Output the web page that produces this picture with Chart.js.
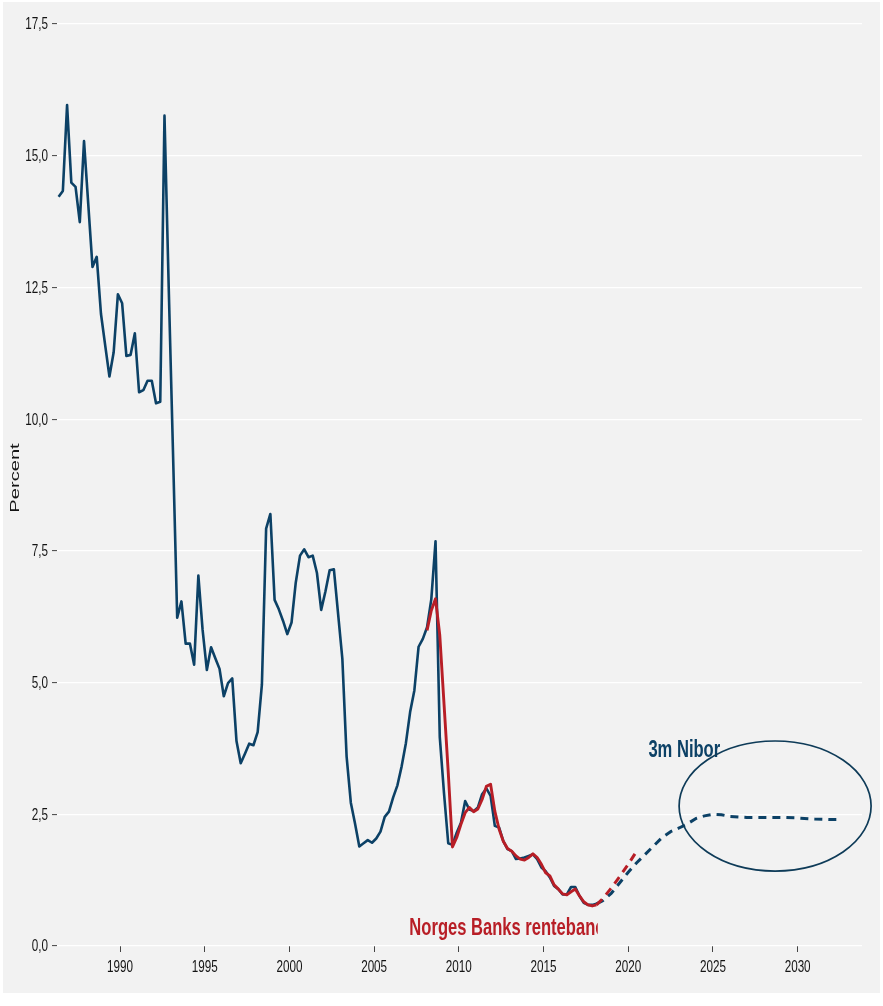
<!DOCTYPE html>
<html>
<head>
<meta charset="utf-8">
<script src="https://cdn.jsdelivr.net/npm/chart.js@4.4.1/dist/chart.umd.min.js"></script>
<style>
  html, body { margin: 0; padding: 0; background: #ffffff; }
  #wrap { position: absolute; left: 3px; top: 2px; width: 877px; height: 991px; background: #f2f2f2; }
</style>
</head>
<body>
<div id="wrap"><canvas id="chart"></canvas></div>
<script>
// ---------------- DATA ----------------
// 3m Nibor, quarterly history (first observation at 1986.375, step 0.25 year)
const niborStartYear = 1986.375;
const quarterStep = 0.25;
const niborHist = [
  14.22, 14.33, 15.96, 14.49, 14.41, 13.74, 15.28, 14.08, 12.89, 13.08,
  12.00, 11.40, 10.81, 11.27, 12.37, 12.20, 11.20, 11.22, 11.63, 10.51,
  10.55, 10.73, 10.73, 10.30, 10.33, 15.76, 12.50, 9.40, 6.23, 6.54,
  5.74, 5.74, 5.34, 7.03, 6.00, 5.24, 5.67, 5.46, 5.26, 4.74,
  4.99, 5.08, 3.89, 3.47, 3.65, 3.84, 3.81, 4.06, 4.96, 7.92,
  8.20, 6.57, 6.39, 6.17, 5.92, 6.14, 6.90, 7.41, 7.53, 7.38,
  7.41, 7.08, 6.38, 6.73, 7.13, 7.15, 6.30, 5.45, 3.60, 2.72,
  2.32, 1.89, 1.95, 2.01, 1.96, 2.04, 2.17, 2.45, 2.55, 2.82,
  3.05, 3.41, 3.85, 4.44, 4.85, 5.68, 5.83, 6.05, 6.58, 7.68,
  3.97, 2.90, 1.95, 1.92, 2.15, 2.34, 2.75, 2.59, 2.56, 2.63,
  2.88, 2.99, 2.85, 2.28, 2.25, 1.99, 1.84, 1.80, 1.65, 1.66,
  1.68, 1.71, 1.74, 1.65, 1.49, 1.42, 1.30, 1.14, 1.08, 0.98,
  0.98, 1.12, 1.12, 0.95, 0.82, 0.78, 0.78, 0.80
];
// 3m Nibor, market forward path (dashed)
const niborFwdYears = [2018.125, 2018.5, 2019, 2019.5, 2020, 2020.5, 2021, 2021.5, 2022, 2022.5,
  2023, 2023.5, 2024, 2024.5, 2025, 2025.5, 2026, 2027, 2028, 2029, 2030, 2031, 2032, 2032.6];
const niborFwd = [0.80, 0.86, 1.00, 1.20, 1.40, 1.58, 1.74, 1.90, 2.06, 2.17,
  2.24, 2.32, 2.42, 2.47, 2.50, 2.49, 2.46, 2.44, 2.44, 2.44, 2.43, 2.41, 2.40, 2.40];

// Norges Banks rentebane, quarterly history (starts at quarter index 87 of the Nibor series)
const rentebaneStartIndex = 87;
const rentebaneHist = [
  5.99, 6.37, 6.59, 5.90, 4.60, 3.30, 1.88, 2.06, 2.31, 2.53,
  2.63, 2.55, 2.60, 2.78, 3.03, 3.07, 2.56, 2.22, 1.99, 1.85,
  1.80, 1.71, 1.65, 1.63, 1.68, 1.75, 1.68, 1.55, 1.39, 1.33,
  1.16, 1.08, 0.99, 0.97, 1.03, 1.08, 0.95, 0.84, 0.78, 0.76, 0.78
];
// Norges Banks rentebane, forecast (dashed)
const rentebaneFwdYears = [2018.125, 2018.5, 2019, 2019.5, 2020, 2020.58];
const rentebaneFwd = [0.78, 0.90, 1.10, 1.32, 1.55, 1.84];

// Axis ticks
const xTickYears = [1990, 1995, 2000, 2005, 2010, 2015, 2020, 2025, 2030];
const yTickValues = [0, 2.5, 5, 7.5, 10, 12.5, 15, 17.5];

// Texts
const yTitle = 'Percent';
const niborLabel = '3m Nibor';
const rentebaneLabel = 'Norges Banks rentebane';

// ---------------- STYLE ----------------
const BLUE = '#0c4166';
const RED = '#b81e26';
const ELLIPSE = '#0e3b58';
const TEXT = '#141414';
const TICKMARK = '#444444';
const SANS = '"Liberation Sans", Arial, sans-serif';
const NARROW = 0.73;   // horizontal squeeze of the original typography

const xFmt = v => String(v);
const yFmt = v => v.toFixed(1).replace('.', ',');

// build point arrays
const niborHistPts = niborHist.map((v, i) => ({ x: niborStartYear + i * quarterStep, y: v }));
const niborFwdPts = niborFwdYears.map((t, i) => ({ x: t, y: niborFwd[i] }));
const rentebaneHistPts = rentebaneHist.map((v, i) => ({ x: niborStartYear + (rentebaneStartIndex + i) * quarterStep, y: v }));
const rentebaneFwdPts = rentebaneFwdYears.map((t, i) => ({ x: t, y: rentebaneFwd[i] }));

function scaledText(ctx, text, px, py, font, color, sx, align, baseline) {
  ctx.save();
  ctx.translate(px, py);
  ctx.scale(sx, 1);
  ctx.font = font;
  ctx.fillStyle = color;
  ctx.textAlign = align || 'left';
  ctx.textBaseline = baseline || 'alphabetic';
  ctx.fillText(text, 0, 0);
  ctx.restore();
}

const annotationPlugin = {
  id: 'annotations',
  afterDatasetsDraw(chart) {
    const ctx = chart.ctx;
    const x = chart.scales.x, y = chart.scales.y;
    const boldFont = 'bold 24px ' + SANS;
    // Norges Banks rentebane (clipped on the right like the original)
    ctx.save();
    ctx.beginPath();
    ctx.rect(0, 0, x.getPixelForValue(2018.2), chart.height);
    ctx.clip();
    scaledText(ctx, rentebaneLabel, x.getPixelForValue(2007.08), y.getPixelForValue(0.209), boldFont, RED, 0.69);
    ctx.restore();
    // 3m Nibor
    scaledText(ctx, niborLabel, x.getPixelForValue(2021.19), y.getPixelForValue(3.587), boldFont, BLUE, 0.69);
    // ellipse around the forward path
    const cx = x.getPixelForValue(2028.67), cy = y.getPixelForValue(2.657);
    const rx = x.getPixelForValue(2028.67 + 5.667) - cx;
    const ry = cy - y.getPixelForValue(2.657 + 1.234);
    ctx.save();
    ctx.beginPath();
    ctx.ellipse(cx, cy, rx, ry, 0, 0, Math.PI * 2);
    ctx.strokeStyle = ELLIPSE;
    ctx.lineWidth = 1.7;
    ctx.stroke();
    ctx.restore();
  },
  afterDraw(chart) {
    const ctx = chart.ctx;
    const x = chart.scales.x, y = chart.scales.y;
    const tickFont = '16px ' + SANS;
    // y tick labels (right-aligned, left of the tick marks)
    y.ticks.forEach(t => {
      scaledText(ctx, yFmt(t.value), y.right - 9, y.getPixelForValue(t.value) + 1, tickFont, TEXT, NARROW, 'right', 'middle');
    });
    // x tick labels (centred below the tick marks)
    x.ticks.forEach(t => {
      scaledText(ctx, xFmt(t.value), x.getPixelForValue(t.value), x.top + 22, tickFont, TEXT, NARROW, 'center', 'middle');
    });
    // y axis title
    ctx.save();
    ctx.translate(12, 476);
    ctx.rotate(-Math.PI / 2);
    ctx.scale(1.55, 1);
    ctx.font = '13px ' + SANS;
    ctx.fillStyle = TEXT;
    ctx.textAlign = 'center';
    ctx.textBaseline = 'middle';
    ctx.fillText(yTitle, 0, 0);
    ctx.restore();
  }
};

const hiddenTickFont = { family: SANS, size: 14 };

new Chart(document.getElementById('chart'), {
  type: 'line',
  data: {
    datasets: [
      { label: 'rentebane', data: rentebaneHistPts, borderColor: RED, borderWidth: 2.9, order: 0 },
      { label: 'rentebane prognose', data: rentebaneFwdPts, borderColor: RED, borderWidth: 3, borderDash: [8, 6], order: 1 },
      { label: '3m Nibor', data: niborHistPts, borderColor: BLUE, borderWidth: 2.6, order: 2 },
      { label: '3m Nibor forward', data: niborFwdPts, borderColor: BLUE, borderWidth: 3, borderDash: [8, 6], order: 3 }
    ]
  },
  options: {
    responsive: true,
    maintainAspectRatio: false,
    animation: false,
    devicePixelRatio: 1,
    elements: {
      point: { radius: 0, hoverRadius: 0 },
      line: { tension: 0, fill: false, borderCapStyle: 'butt', borderJoinStyle: 'round' }
    },
    layout: { padding: { left: 0, top: 22, right: 18, bottom: 0 } },
    plugins: { legend: { display: false }, tooltip: { enabled: false }, title: { display: false } },
    scales: {
      x: {
        type: 'linear',
        min: 1986.28,
        max: 2033.8,
        afterBuildTicks: s => { s.ticks = xTickYears.map(v => ({ value: v })); },
        afterFit: s => { s.height = 47; },
        ticks: { callback: xFmt, font: hiddenTickFont, color: 'rgba(0,0,0,0)', padding: 5, maxRotation: 0, autoSkip: false },
        grid: { display: true, drawOnChartArea: false, drawTicks: true, tickLength: 6, tickColor: TICKMARK, tickWidth: 1 },
        border: { display: false }
      },
      y: {
        type: 'linear',
        min: 0,
        max: 17.5,
        afterBuildTicks: s => { s.ticks = yTickValues.map(v => ({ value: v })); },
        afterFit: s => { s.width = 54; },
        ticks: { callback: yFmt, font: hiddenTickFont, color: 'rgba(0,0,0,0)', padding: 5 },
        grid: { color: '#ffffff', lineWidth: 1.2, drawTicks: true, tickLength: 5, tickColor: TICKMARK, tickWidth: 1 },
        border: { display: false }
      }
    }
  },
  plugins: [annotationPlugin]
});
</script>
</body>
</html>
